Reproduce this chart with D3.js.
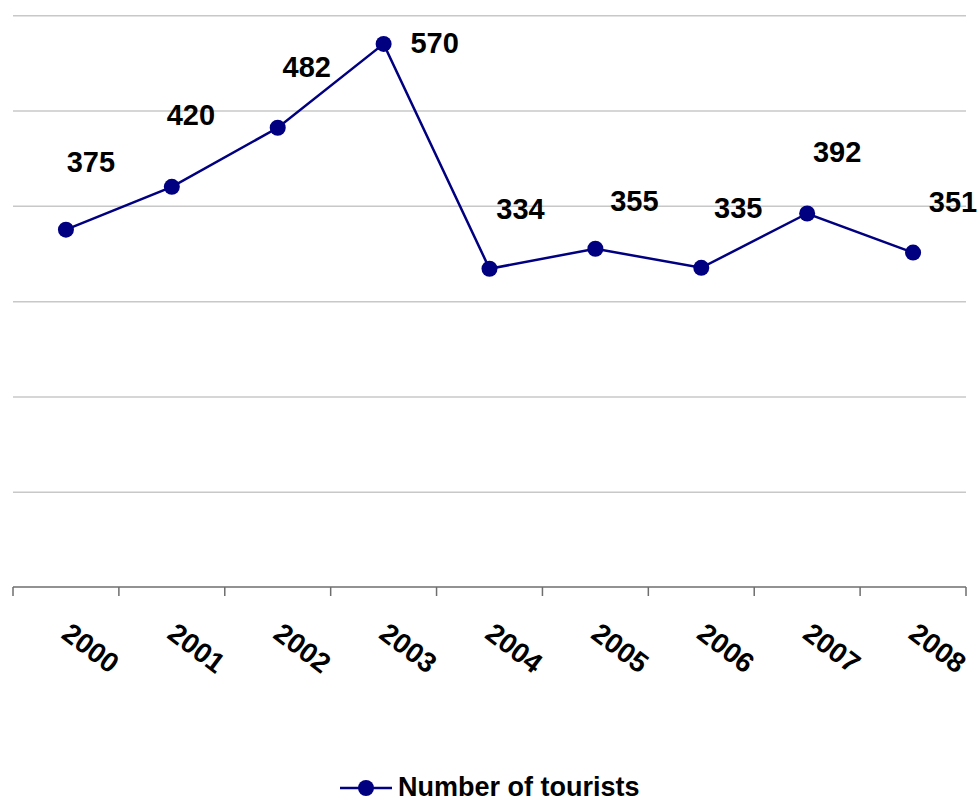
<!DOCTYPE html>
<html>
<head>
<meta charset="utf-8">
<script src="https://cdn.jsdelivr.net/npm/d3@7"></script>
<style>
  body { margin: 0; background: #fff; }
  svg text { font-family: "Liberation Sans", Arial, sans-serif; font-weight: bold; fill: #000; }
</style>
</head>
<body>
<div id="chart-area"></div>
<script>
// data
const years = ["2000", "2001", "2002", "2003", "2004", "2005", "2006", "2007", "2008"];
const tourists = [375, 420, 482, 570, 334, 355, 335, 392, 351];
const gridValues = [0, 100, 200, 300, 400, 500, 600];
const seriesName = "Number of tourists";

// manual label nudges (dx, dy of baseline from point), like hand-placed Excel labels
const labelNudge = [[25, -58], [19, -62], [29, -51], [51, 9], [31, -50], [39, -38], [37, -50], [30, -51], [40, -41]];

const totalWidth = 977, totalHeight = 802;
const plotLeft = 13, plotRight = 966, plotTop = 15.3, plotBottom = 587;
const lineColor = "#000080";

const svg = d3.select("#chart-area")
  .append("svg")
    .attr("width", totalWidth)
    .attr("height", totalHeight);

const xScale = d3.scaleBand()
  .domain(years)
  .range([plotLeft, plotRight])
  .padding(0);

const yScale = d3.scaleLinear()
  .domain([0, 600])
  .range([plotBottom, plotTop]);

const xMid = d => xScale(d) + xScale.bandwidth() / 2;

// gridlines
const gridCall = d3.axisLeft(yScale)
  .tickValues(gridValues.slice(1))
  .tickSize(-(plotRight - plotLeft))
  .tickFormat("");
const grid = svg.append("g")
  .attr("class", "grid")
  .attr("transform", "translate(" + plotLeft + ",0)")
  .call(gridCall);
grid.select(".domain").remove();
grid.selectAll("line")
  .attr("stroke", "#c8c8c8")
  .attr("stroke-width", 1.5);

// x axis with ticks on band edges
const xAxis = svg.append("g").attr("class", "x axis");
xAxis.append("line")
  .attr("x1", plotLeft).attr("x2", plotRight)
  .attr("y1", yScale(0)).attr("y2", yScale(0))
  .attr("stroke", "#6e6e6e")
  .attr("stroke-width", 1.5);

const tickEdges = years.map(d => xScale(d)).concat([plotRight]);
xAxis.selectAll(".tick")
  .data(tickEdges)
  .enter()
  .append("line")
    .attr("class", "tick")
    .attr("x1", d => d).attr("x2", d => d)
    .attr("y1", yScale(0)).attr("y2", yScale(0) + 9)
    .attr("stroke", "#6e6e6e")
    .attr("stroke-width", 1.5);

xAxis.selectAll(".year")
  .data(years)
  .enter()
  .append("text")
    .attr("class", "year")
    .attr("font-size", "28px")
    .attr("text-anchor", "start")
    .attr("transform", d => "translate(" + (xMid(d) - 6) + "," + (yScale(0) + 50) + ") rotate(37)")
    .text(d => d);

// line
const line = d3.line()
  .x((d, i) => xMid(years[i]))
  .y(d => yScale(d));

svg.append("path")
  .datum(tourists)
  .attr("fill", "none")
  .attr("stroke", lineColor)
  .attr("stroke-width", 2.5)
  .attr("d", line);

svg.selectAll(".dot")
  .data(tourists)
  .enter()
  .append("circle")
    .attr("class", "dot")
    .attr("cx", (d, i) => xMid(years[i]))
    .attr("cy", d => yScale(d))
    .attr("r", 8)
    .attr("fill", lineColor);

// data labels
svg.selectAll(".value")
  .data(tourists)
  .enter()
  .append("text")
    .attr("class", "value")
    .attr("font-size", "29px")
    .attr("text-anchor", "middle")
    .attr("x", (d, i) => xMid(years[i]) + labelNudge[i][0])
    .attr("y", (d, i) => yScale(d) + labelNudge[i][1])
    .text(d => d);

// legend
const legend = svg.append("g")
  .attr("transform", "translate(340,788)");
legend.append("line")
  .attr("x1", 0).attr("x2", 52)
  .attr("stroke", lineColor)
  .attr("stroke-width", 2.5);
legend.append("circle")
  .attr("cx", 26)
  .attr("r", 8)
  .attr("fill", lineColor);
legend.append("text")
  .attr("x", 58)
  .attr("y", 8)
  .attr("font-size", "27px")
  .text(seriesName);
</script>
</body>
</html>
